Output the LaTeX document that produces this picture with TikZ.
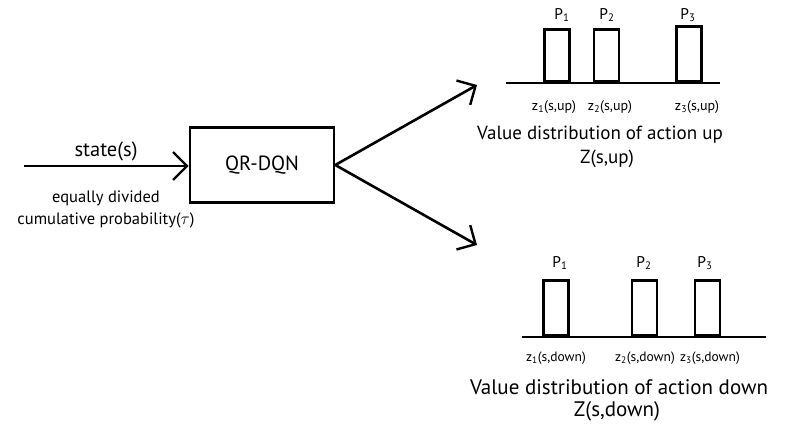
\documentclass[tikz,border=0pt]{standalone}
\usepackage{fontspec}
\setmainfont{PT Sans}
\usetikzlibrary{arrows.meta}
\tikzset{
  line/.style={line width=2.6pt},
  arr/.style={line, -{Straight Barb[length=14pt,width=28pt,line width=2.4pt]}},
  bar/.style={draw, line width=2.6pt, minimum width=25pt, anchor=south, inner sep=0pt},
  lbl/.style={font=\fontsize{20.5}{22}\selectfont, inner sep=0pt},
  small/.style={font=\fontsize{16.5}{18}\selectfont, inner sep=0pt},
  plbl/.style={font=\fontsize{15.5}{17}\selectfont, inner sep=0pt},
  zl/.style={font=\fontsize{14}{16}\selectfont, inner sep=0pt},
  zdl/.style={font=\fontsize{13.5}{15}\selectfont, inner sep=0pt},
  title/.style={font=\fontsize{19}{21}\selectfont, inner sep=0pt},
  dtitle/.style={font=\fontsize{21}{23}\selectfont, inner sep=0pt},
}
\begin{document}
\begin{tikzpicture}[x=1pt,y=-1pt]
\useasboundingbox (0,0) rectangle (795,428);
% main box
\node[draw, line width=2.6pt, minimum width=144pt, minimum height=75pt, lbl] (qr) at (262,165) {QR-DQN};
\coordinate (in) at (24,166);
\draw[arr] (in) -- (qr.west |- in);
\node[lbl] (state) at (106,151) {state(s)};
\node[small] (eq) at (106,198) {equally divided};
\node[small] (cum) at (106,220) {cumulative probability($\tau$)};
% output arrows
\coordinate (upt) at (477,85);
\coordinate (dnt) at (477,245);
\draw[arr] (qr.east) -- (upt);
\draw[arr] (qr.east) -- (dnt);
% top distribution
\coordinate (ua) at (506,83);
\coordinate (ub) at (720,83);
\draw[line] (ua) -- (ub);
\node[bar, minimum height=52pt] (u1) at (557,83) {};
\node[bar, minimum height=52pt] (u2) at (606.5,83) {};
\node[bar, minimum height=55pt] (u3) at (689,83) {};
\node[plbl] (up1) at (562,15) {P\textsubscript{1}};
\node[plbl] (up2) at (607,15) {P\textsubscript{2}};
\node[plbl] (up3) at (688,15) {P\textsubscript{3}};
\node[zl] (uz1) at (554,107) {z\textsubscript{1}(s,up)};
\node[zl] (uz2) at (610,107) {z\textsubscript{2}(s,up)};
\node[zl] (uz3) at (697,107) {z\textsubscript{3}(s,up)};
\node[title] (ut) at (600,135) {Value distribution of action up};
\node[title] (uz) at (607,159) {Z(s,up)};
% bottom distribution
\coordinate (da) at (522,337);
\coordinate (db) at (766,337);
\draw[line] (da) -- (db);
\node[bar, minimum height=55pt] (d1) at (556,337) {};
\node[bar, minimum height=55pt] (d2) at (644.5,337) {};
\node[bar, minimum height=55pt] (d3) at (707.5,337) {};
\node[plbl] (dp1) at (560,263) {P\textsubscript{1}};
\node[plbl] (dp2) at (644,263) {P\textsubscript{2}};
\node[plbl] (dp3) at (705,263) {P\textsubscript{3}};
\node[zdl] (dz1) at (556,358) {z\textsubscript{1}(s,down)};
\node[zdl] (dz2) at (645,358) {z\textsubscript{2}(s,down)};
\node[zdl] (dz3) at (710,358) {z\textsubscript{3}(s,down)};
\node[dtitle] (dt) at (619,387) {Value distribution of action down};
\node[dtitle] (dz) at (617,411) {Z(s,down)};
\end{tikzpicture}
\end{document}
